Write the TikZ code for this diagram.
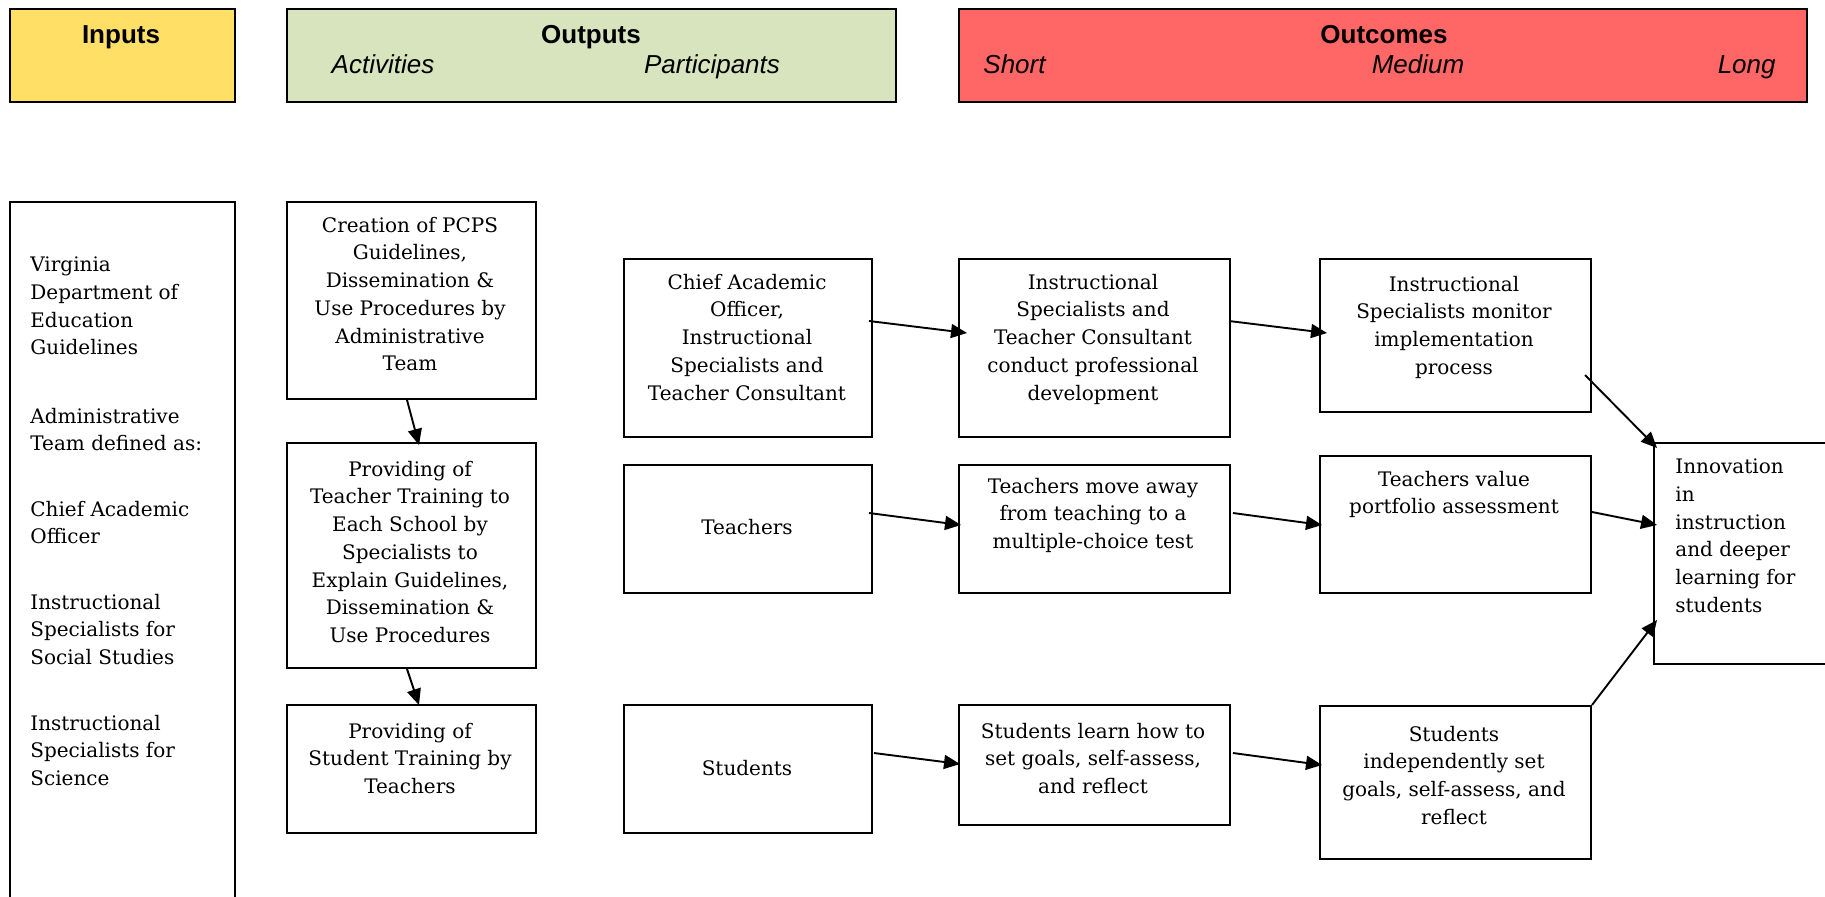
\documentclass[tikz,border=0pt]{standalone}
\usepackage{fontspec}
\setmainfont{DejaVu Serif}
\newfontfamily\headfont{Liberation Sans}
\usetikzlibrary{arrows.meta,calc}
\definecolor{inyellow}{HTML}{FFDF66}
\definecolor{outgreen}{HTML}{D7E4BD}
\definecolor{ocred}{HTML}{FF6666}
\begin{document}
\begin{tikzpicture}[x=0.5pt,y=-0.5pt,
  bx/.style 2 args={draw=black,line width=1pt,inner sep=0,anchor=north west,
     minimum width={#1*0.5pt},minimum height={#2*0.5pt}},
  txt/.style={font=\fontsize{10}{13.85}\selectfont,inner sep=0,execute at begin node=\strut},
  ctr/.style={txt,align=center,anchor=north},
  lft/.style={txt,align=left,anchor=north west},
  arr/.style={line width=0.95pt,-{Triangle[length=8pt,width=7pt]}},
  htitle/.style={font=\headfont\bfseries\fontsize{13}{15}\selectfont,inner sep=0,anchor=base},
  hsub/.style={font=\headfont\itshape\fontsize{13}{15}\selectfont,inner sep=0,anchor=base}]
\useasboundingbox (0,0) rectangle (1825,896);
% header boxes
\node[bx={225}{93},fill=inyellow] (hin) at (9,8) {};
\node[bx={609}{93},fill=outgreen] (hout) at (286,8) {};
\node[bx={848}{93},fill=ocred] (hoc) at (958,8) {};
\node[htitle] (tin) at (121,43) {Inputs};
\node[htitle] (tout) at (591,43) {Outputs};
\node[hsub] (tact) at (383,73) {Activities};
\node[hsub] (tpar) at (712,73) {Participants};
\node[htitle] (toc) at (1384,43) {Outcomes};
\node[hsub,anchor=base west] (tsho) at (983,73) {Short};
\node[hsub] (tmed) at (1418,73) {Medium};
\node[hsub,anchor=base east] (tlon) at (1776,73) {Long};
% boxes
\node[bx={225}{720}] (left) at (9,201) {};
\node[bx={249}{197}] (cre) at (286,201) {};
\node[bx={249}{225}] (ttr) at (286,442) {};
\node[bx={249}{128}] (str) at (286,704) {};
\node[bx={248}{178}] (chief) at (623,258) {};
\node[bx={248}{128}] (tea) at (623,464) {};
\node[bx={248}{128}] (stu) at (623,704) {};
\node[bx={271}{178}] (isc) at (958,258) {};
\node[bx={271}{128}] (tmv) at (958,464) {};
\node[bx={271}{120}] (sle) at (958,704) {};
\node[bx={271}{153}] (mon) at (1319,258) {};
\node[bx={271}{137}] (tva) at (1319,455) {};
\node[bx={271}{153}] (sin) at (1319,705) {};
\node[bx={190}{221}] (inn) at (1653,442) {};
% left column text (y = first baseline - 19.4)
\node[lft] (l1) at (30,256.6) {Virginia\\Department of\\Education\\Guidelines};
\node[lft] (l2) at (30,407.6) {Administrative\\Team defined as:};
\node[lft] (l3) at (30,500.6) {Chief Academic\\Officer};
\node[lft] (l4) at (30,593.6) {Instructional\\Specialists for\\Social Studies};
\node[lft] (l5) at (30,714.6) {Instructional\\Specialists for\\Science};
% activities
\node[ctr] (crt) at (410,216.6) {Creation of PCPS\\Guidelines,\\Dissemination \&\\Use Procedures by\\Administrative\\Team};
\node[ctr] (ttrt) at (410,460.6) {Providing of\\Teacher Training to\\Each School by\\Specialists to\\Explain Guidelines,\\Dissemination \&\\Use Procedures};
\node[ctr] (strt) at (410,722.6) {Providing of\\Student Training by\\Teachers};
% participants
\node[ctr] (chieft) at (747,273.6) {Chief Academic\\Officer,\\Instructional\\Specialists and\\Teacher Consultant};
\node[ctr] (teat) at (747,514.6) {Teachers};
\node[ctr] (stut) at (747,755.6) {Students};
% short
\node[ctr] (isct) at (1093,273.6) {Instructional\\Specialists and\\Teacher Consultant\\conduct professional\\development};
\node[ctr] (tmvt) at (1093,477.6) {Teachers move away\\from teaching to a\\multiple-choice test};
\node[ctr] (slet) at (1093,722.6) {Students learn how to\\set goals, self-assess,\\and reflect};
% medium
\node[ctr] (mont) at (1454,275.6) {Instructional\\Specialists monitor\\implementation\\process};
\node[ctr] (tvat) at (1454,470.6) {Teachers value\\portfolio assessment};
\node[ctr] (sint) at (1454,725.6) {Students\\independently set\\goals, self-assess, and\\reflect};
% long
\node[lft] (innt) at (1675,458.6) {Innovation\\in\\instruction\\and deeper\\learning for\\students};
% arrows
\draw[arr] ($(cre.south west)+(121,0)$) -- ($(ttr.north west)+(133,3)$);
\draw[arr] ($(ttr.south west)+(121,0)$) -- ($(str.north west)+(133,1)$);
\draw[arr] ($(chief.north east)+(-4,63)$) -- ($(isc.north west)+(9,75)$);
\draw[arr] ($(isc.north east)+(-2,63)$) -- ($(mon.north west)+(8,75)$);
\draw[arr] ($(tea.north east)+(-4,49)$) -- ($(tmv.north west)+(3,61)$);
\draw[arr] ($(tmv.north east)+(2,49)$) -- ($(tva.north west)+(3,70)$);
\draw[arr] ($(stu.north east)+(1,49)$) -- ($(sle.north west)+(2,60)$);
\draw[arr] ($(sle.north east)+(2,49)$) -- ($(sin.north west)+(3,60)$);
\draw[arr] ($(mon.north east)+(-7,117)$) -- ($(inn.north west)+(4,6)$);
\draw[arr] ($(tva.north east)+(0,57)$) -- ($(inn.north west)+(4,83)$);
\draw[arr] (sin.north east) -- ($(inn.north west)+(4,178)$);
\end{tikzpicture}
\end{document}
